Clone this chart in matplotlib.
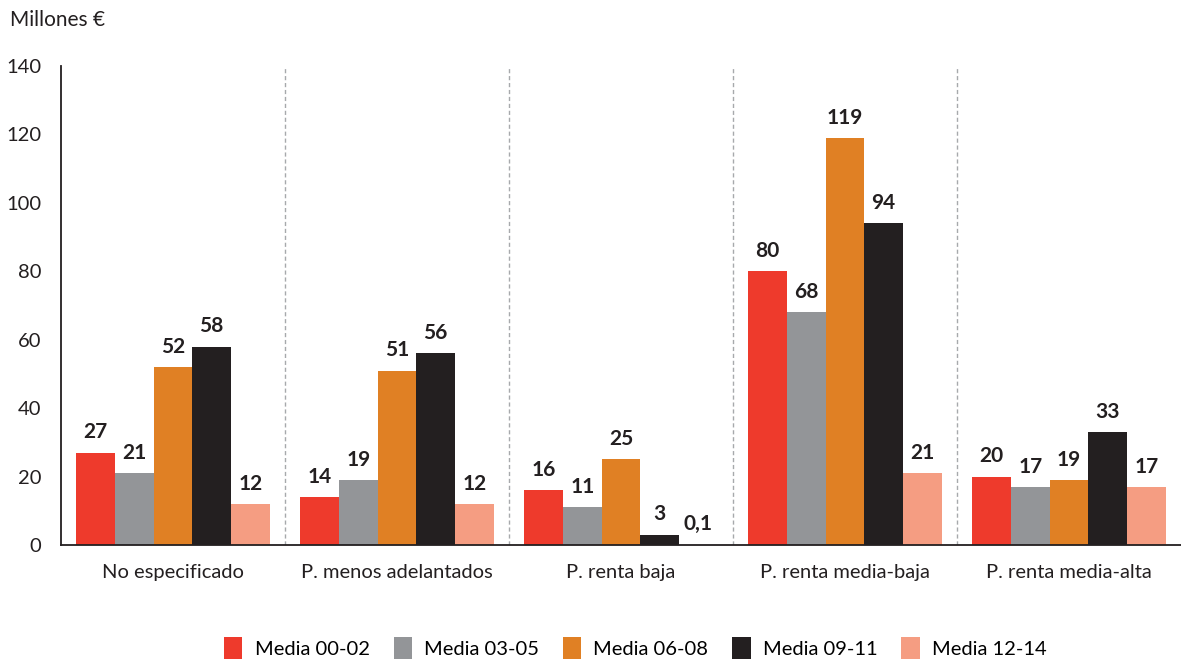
import matplotlib.pyplot as plt
import numpy as np
from matplotlib.patches import Patch

plt.rcParams['font.family'] = ['Lato', 'DejaVu Sans']

categories = ["No especificado", "P. menos adelantados", "P. renta baja",
              "P. renta media-baja", "P. renta media-alta"]
series_names = ["Media 00-02", "Media 03-05", "Media 06-08", "Media 09-11", "Media 12-14"]
media_00_02 = [27, 14, 16, 80, 20]
media_03_05 = [21, 19, 11, 68, 17]
media_06_08 = [52, 51, 25, 119, 19]
media_09_11 = [58, 56, 3, 94, 33]
media_12_14 = [12, 12, 0.1, 21, 17]
series = [media_00_02, media_03_05, media_06_08, media_09_11, media_12_14]
colors = ["#EE3A2C", "#939598", "#E08024", "#231F20", "#F59D82"]
yticks = [0, 20, 40, 60, 80, 100, 120, 140]

def fmt(v):
    return f"{v:g}".replace(".", ",")

fig = plt.figure(figsize=(11.81, 6.63), dpi=100)
ax = fig.add_axes([61 / 1181, 1 - 545 / 663, 1120 / 1181, (545 - 66) / 663])

x = np.arange(len(categories))
width = 0.1725
for i, (vals, col) in enumerate(zip(series, colors)):
    pos = x + (i - 2) * width
    ax.bar(pos, vals, width=width, color=col, linewidth=0)
    for p, v in zip(pos, vals):
        ax.text(p, v + 3.0, fmt(v), ha="center", va="bottom",
                fontsize=15, fontweight="bold", color="#231F20")

for sep in x[:-1] + 0.5:
    ax.axvline(sep, color="#A7A9AC", linestyle=(0, (3, 2)), linewidth=1)

ax.set_xlim(-0.5, len(categories) - 0.5)
ax.set_ylim(0, 140)
ax.set_yticks(yticks)
ax.set_yticklabels([str(t) for t in yticks], fontsize=14.5, color="#231F20")
ax.set_xticks(x)
ax.set_xticklabels(categories, fontsize=14.5, color="#231F20")
ax.tick_params(axis="y", length=0, pad=14)
ax.tick_params(axis="x", length=0, pad=14)
for side in ["top", "right"]:
    ax.spines[side].set_visible(False)
ax.spines["left"].set_color("#231F20")
ax.spines["bottom"].set_color("#231F20")
ax.spines["left"].set_linewidth(1.3)
ax.spines["bottom"].set_linewidth(1.3)

fig.text(10 / 1181, 1 - 20 / 663, "Millones €", fontsize=15, color="#231F20",
         ha="left", va="center")

handles = [Patch(facecolor=c, edgecolor="none") for c in colors]
fig.legend(handles, series_names, loc="center", bbox_to_anchor=(0.538, 1 - 648 / 663),
           ncol=5, frameon=False, fontsize=14.5, handlelength=0.9, handleheight=1.3,
           handletextpad=0.6, columnspacing=1.2)

fig.savefig("out.png", dpi=100)
